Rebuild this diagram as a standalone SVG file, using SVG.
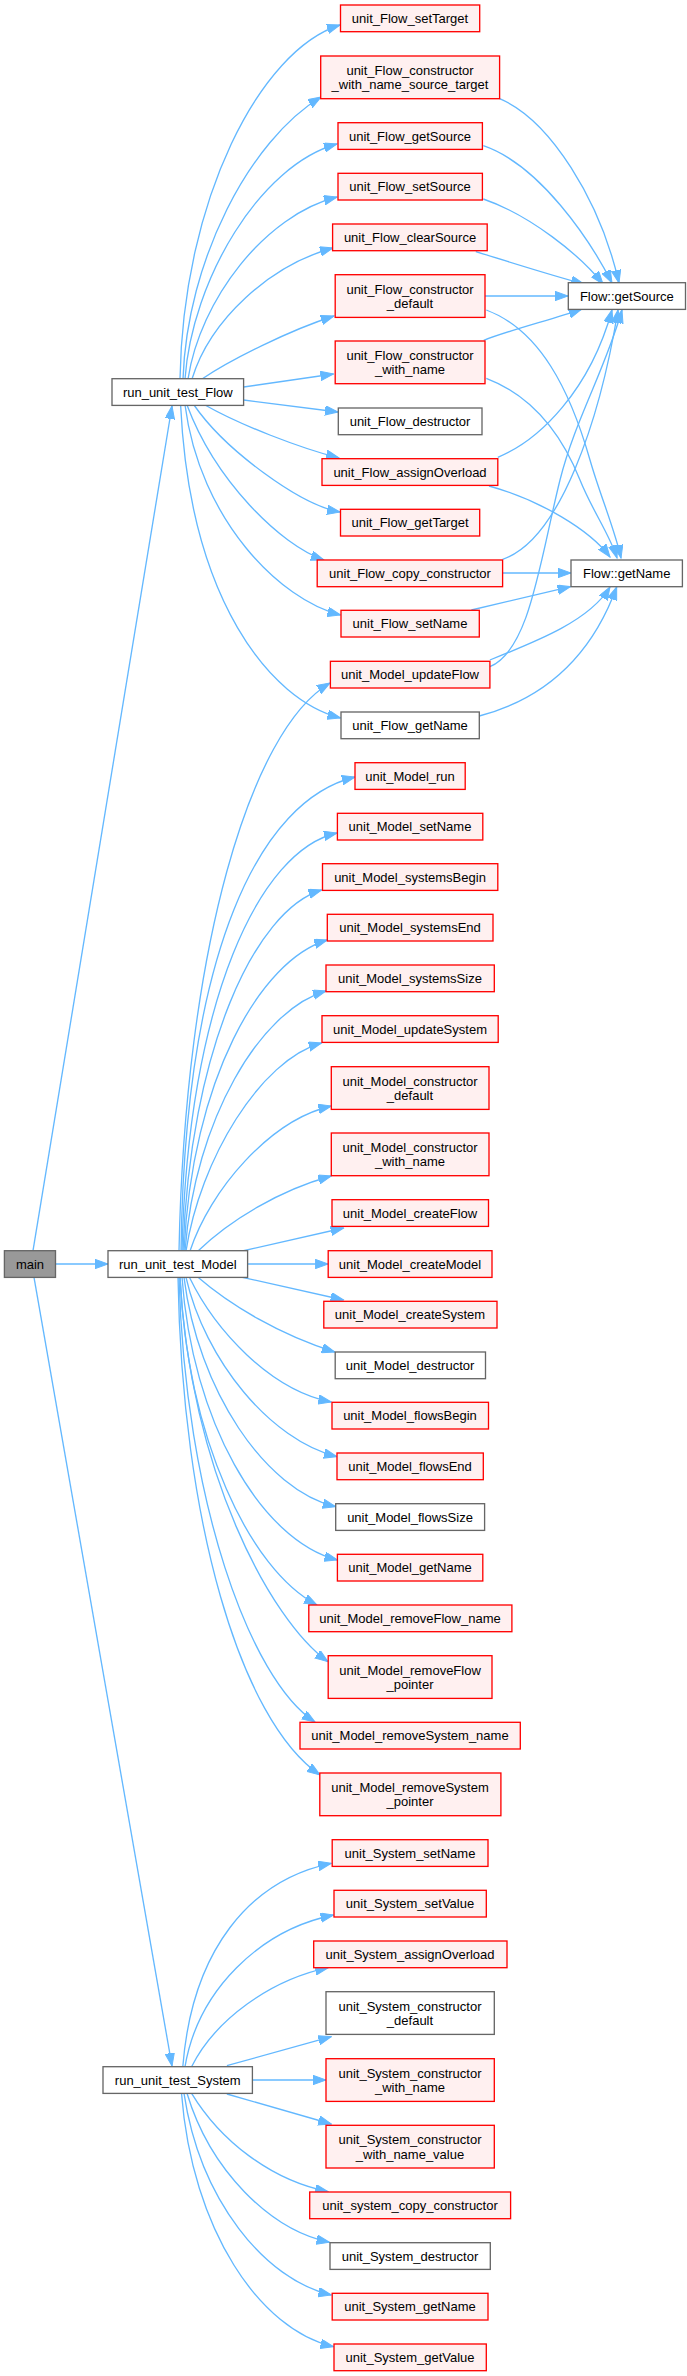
<svg xmlns="http://www.w3.org/2000/svg" width="687" height="2376" viewBox="0 0 687 2376">
<style>
text{font-family:"Liberation Sans",Arial,sans-serif;font-size:13px;fill:#000;text-anchor:middle}
.r{fill:#fff0f0;stroke:#ff0000;stroke-width:1.33}
.g{fill:#ffffff;stroke:#666666;stroke-width:1.33}
.m{fill:#999999;stroke:#666666;stroke-width:1.33}
.e path{fill:none;stroke:#63b8ff;stroke-width:1.33;marker-end:url(#ah)}
</style>
<defs>
<marker id="ah" markerWidth="14" markerHeight="10" refX="13" refY="4.7" orient="auto" markerUnits="userSpaceOnUse"><path d="M0,0 L13,4.7 L0,9.4 z" fill="#63b8ff" stroke="#63b8ff" stroke-width="1"/></marker>
</defs>
<rect width="687" height="2376" fill="#ffffff"/>
<g class="e" id="edges">
<path d="M33,1250.7 L172,406"/>
<path d="M55.5,1264 L108,1264"/>
<path d="M34,1277.3 L172,2066"/>
<path d="M180,379 C183,200 260,50 340,25"/>
<path d="M183,379 C187,260 250,140 321,97"/>
<path d="M185,379 C192,280 260,165 337,144"/>
<path d="M188,379 C200,300 265,215 337,197"/>
<path d="M192,379 C210,320 270,265 333,248"/>
<path d="M202,379 C230,360 290,330 334,316"/>
<path d="M243.6,387 L333.5,374"/>
<path d="M243.6,400 L338,412"/>
<path d="M205,405 C240,425 300,448 339,458"/>
<path d="M194,405 C225,450 300,505 340,512"/>
<path d="M187,405 C215,480 280,545 324,560"/>
<path d="M185,405 C200,520 280,600 340.5,615"/>
<path d="M180.6,405 C190,600 270,700 340.5,718"/>
<path d="M499.6,98.7 C550,120 600,200 619,283"/>
<path d="M483.3,145.7 C540,165 590,240 612,283"/>
<path d="M483.3,199 C530,215 580,255 603,284"/>
<path d="M475.8,251.7 C510,262 550,275 584,284"/>
<path d="M485,296 L568,296"/>
<path d="M483.7,340.3 C510,330 550,320 581.5,309.3"/>
<path d="M497.8,457.3 C540,440 590,390 612,310"/>
<path d="M502.6,559.3 C560,540 600,420 618,310"/>
<path d="M489.9,666.7 C530,650 540,560 560,480 C575,420 605,370 622,310"/>
<path d="M486.3,310 C540,330 570,390 590,460 C600,495 615,530 621,558"/>
<path d="M486.3,378.3 C530,395 560,430 580,480 C592,510 610,535 617,558"/>
<path d="M489,486 C540,500 590,530 610,557"/>
<path d="M502.6,573 L571,573"/>
<path d="M471.4,610 L570.5,586.7"/>
<path d="M489.9,660 C540,640 590,620 610,587"/>
<path d="M479.3,716 C540,700 590,660 616.7,587"/>
<path d="M179,1251 C185,950 250,730 330,683"/>
<path d="M181,1251 C185,950 260,800 355,777"/>
<path d="M182,1251 C188,1000 260,850 337,833"/>
<path d="M183,1251 C190,1050 255,910 321.6,890"/>
<path d="M184,1251 C192,1080 260,960 327.3,940"/>
<path d="M185,1251 C195,1120 260,1010 326,991"/>
<path d="M186,1251 C200,1160 260,1060 321.6,1043"/>
<path d="M190,1251 C210,1190 270,1120 331.3,1106"/>
<path d="M198,1251 C230,1220 280,1190 331.3,1176"/>
<path d="M242.3,1251 L343.6,1228"/>
<path d="M247.6,1264 L328.2,1264"/>
<path d="M242.3,1277.3 L343.6,1300"/>
<path d="M198,1277.3 C230,1305 280,1335 334.8,1352"/>
<path d="M189.4,1277.3 C215,1330 270,1390 331.3,1402"/>
<path d="M186,1277.3 C205,1360 270,1440 337,1456.7"/>
<path d="M184,1277.3 C198,1390 265,1490 335.7,1506.7"/>
<path d="M182,1277.3 C192,1420 260,1540 337.4,1560"/>
<path d="M180,1277.3 C188,1440 250,1570 317,1605"/>
<path d="M180,1277.3 C190,1470 270,1620 328,1661.7"/>
<path d="M179,1277.3 C185,1500 250,1680 315,1722"/>
<path d="M178,1277.3 C182,1520 240,1720 320,1775"/>
<path d="M182.8,2066.7 C192,1950 250,1880 331.3,1863.3"/>
<path d="M185,2066.7 C198,1990 260,1930 333.5,1915"/>
<path d="M191.6,2066.7 C215,2020 270,1980 328.2,1967.7"/>
<path d="M226.9,2065.7 L331.3,2036.7"/>
<path d="M252.4,2080 L326,2080"/>
<path d="M226.9,2094 L331.3,2124"/>
<path d="M191.6,2093.3 C220,2140 270,2180 328.2,2191.7"/>
<path d="M187,2093.3 C210,2170 270,2230 329.5,2242.3"/>
<path d="M184,2093.3 C200,2200 265,2280 331.3,2295"/>
<path d="M181.5,2093.3 C192,2230 260,2330 333.5,2346.7"/>
</g>
<g id="main"><rect class="m" x="4.4" y="1250.7" width="51.1" height="26.7"/><text x="30" y="1268.6">main</text></g>
<g id="run_unit_test_Flow"><rect class="g" x="112" y="378.7" width="131.6" height="26.7"/><text x="177.8" y="396.6">run_unit_test_Flow</text></g>
<g id="run_unit_test_Model"><rect class="g" x="108" y="1250.7" width="139.6" height="26.7"/><text x="177.8" y="1268.6">run_unit_test_Model</text></g>
<g id="run_unit_test_System"><rect class="g" x="103" y="2066.7" width="149.4" height="26.7"/><text x="177.7" y="2084.6">run_unit_test_System</text></g>
<g id="Flow_getSource"><rect class="g" x="568.3" y="282.7" width="117.2" height="26.7"/><text x="626.9" y="300.6">Flow::getSource</text></g>
<g id="Flow_getName"><rect class="g" x="571" y="560" width="111.4" height="26.7"/><text x="626.7" y="577.9">Flow::getName</text></g>
<g id="n1"><rect class="r" x="340.5" y="5" width="139.2" height="26.7"/><text x="410" y="22.9">unit_Flow_setTarget</text></g>
<g id="n2"><rect class="r" x="320.7" y="56" width="178.9" height="42.7"/><text x="410" y="74.9">unit_Flow_constructor</text><text x="410" y="89.4">_with_name_source_target</text></g>
<g id="n3"><rect class="r" x="338" y="122.7" width="144.4" height="26.7"/><text x="410" y="140.5">unit_Flow_getSource</text></g>
<g id="n4"><rect class="r" x="338" y="173.3" width="144.4" height="26.7"/><text x="410" y="191.2">unit_Flow_setSource</text></g>
<g id="n5"><rect class="r" x="332.6" y="224" width="154.6" height="26.7"/><text x="410" y="241.9">unit_Flow_clearSource</text></g>
<g id="n6"><rect class="r" x="335.2" y="274.7" width="149.8" height="42.7"/><text x="410" y="293.5">unit_Flow_constructor</text><text x="410" y="308">_default</text></g>
<g id="n7"><rect class="r" x="335.2" y="341" width="149.8" height="42.7"/><text x="410" y="359.9">unit_Flow_constructor</text><text x="410" y="374.4">_with_name</text></g>
<g id="n8"><rect class="g" x="338.3" y="408" width="143.7" height="26.7"/><text x="410" y="425.9">unit_Flow_destructor</text></g>
<g id="n9"><rect class="r" x="322" y="458.7" width="175.8" height="26.7"/><text x="410" y="476.6">unit_Flow_assignOverload</text></g>
<g id="n10"><rect class="r" x="340.5" y="509.3" width="139.2" height="26.7"/><text x="410" y="527.2">unit_Flow_getTarget</text></g>
<g id="n11"><rect class="r" x="317.2" y="560" width="185.4" height="26.7"/><text x="410" y="577.9">unit_Flow_copy_constructor</text></g>
<g id="n12"><rect class="r" x="341" y="610.3" width="138.3" height="26.7"/><text x="410" y="628.2">unit_Flow_setName</text></g>
<g id="n13"><rect class="r" x="330.4" y="661.3" width="159.5" height="26.7"/><text x="410" y="679.2">unit_Model_updateFlow</text></g>
<g id="n14"><rect class="g" x="341" y="712" width="138.3" height="26.7"/><text x="410" y="729.9">unit_Flow_getName</text></g>
<g id="n15"><rect class="r" x="355" y="762.7" width="110.2" height="26.7"/><text x="410" y="780.6">unit_Model_run</text></g>
<g id="n16"><rect class="r" x="337.4" y="813.3" width="145.4" height="26.7"/><text x="410" y="831.2">unit_Model_setName</text></g>
<g id="n17"><rect class="r" x="322.5" y="863.7" width="175.3" height="26.7"/><text x="410" y="881.6">unit_Model_systemsBegin</text></g>
<g id="n18"><rect class="r" x="327.3" y="914.3" width="165.7" height="26.7"/><text x="410" y="932.2">unit_Model_systemsEnd</text></g>
<g id="n19"><rect class="r" x="326" y="965" width="168.3" height="26.7"/><text x="410" y="982.9">unit_Model_systemsSize</text></g>
<g id="n20"><rect class="r" x="322" y="1015.7" width="176.2" height="26.7"/><text x="410" y="1033.6">unit_Model_updateSystem</text></g>
<g id="n21"><rect class="r" x="331.3" y="1066.7" width="157.7" height="42.7"/><text x="410" y="1085.6">unit_Model_constructor</text><text x="410" y="1100.1">_default</text></g>
<g id="n22"><rect class="r" x="331.3" y="1133" width="157.7" height="42.7"/><text x="410" y="1151.9">unit_Model_constructor</text><text x="410" y="1166.4">_with_name</text></g>
<g id="n23"><rect class="r" x="332" y="1199.7" width="156.5" height="26.7"/><text x="410" y="1217.6">unit_Model_createFlow</text></g>
<g id="n24"><rect class="r" x="328.2" y="1250.7" width="163.8" height="26.7"/><text x="410" y="1268.6">unit_Model_createModel</text></g>
<g id="n25"><rect class="r" x="323.8" y="1301.3" width="173.2" height="26.7"/><text x="410" y="1319.2">unit_Model_createSystem</text></g>
<g id="n26"><rect class="g" x="335.2" y="1352" width="150.3" height="26.7"/><text x="410" y="1369.9">unit_Model_destructor</text></g>
<g id="n27"><rect class="r" x="332" y="1402.3" width="156.5" height="26.7"/><text x="410" y="1420.2">unit_Model_flowsBegin</text></g>
<g id="n28"><rect class="r" x="337" y="1453" width="146.3" height="26.7"/><text x="410" y="1470.9">unit_Model_flowsEnd</text></g>
<g id="n29"><rect class="g" x="335.7" y="1503.7" width="148.9" height="26.7"/><text x="410" y="1521.6">unit_Model_flowsSize</text></g>
<g id="n30"><rect class="r" x="337.4" y="1554.3" width="145.4" height="26.7"/><text x="410" y="1572.2">unit_Model_getName</text></g>
<g id="n31"><rect class="r" x="308.8" y="1605" width="203.1" height="26.7"/><text x="410" y="1622.9">unit_Model_removeFlow_name</text></g>
<g id="n32"><rect class="r" x="328.2" y="1655.7" width="163.8" height="42.7"/><text x="410" y="1674.6">unit_Model_removeFlow</text><text x="410" y="1689.1">_pointer</text></g>
<g id="n33"><rect class="r" x="300" y="1722.3" width="220.3" height="26.7"/><text x="410" y="1740.2">unit_Model_removeSystem_name</text></g>
<g id="n34"><rect class="r" x="319.8" y="1773" width="181.1" height="42.7"/><text x="410" y="1791.9">unit_Model_removeSystem</text><text x="410" y="1806.4">_pointer</text></g>
<g id="n35"><rect class="r" x="332.2" y="1839.7" width="155.8" height="26.7"/><text x="410" y="1857.6">unit_System_setName</text></g>
<g id="n36"><rect class="r" x="334" y="1890.3" width="152.3" height="26.7"/><text x="410" y="1908.2">unit_System_setValue</text></g>
<g id="n37"><rect class="r" x="313.7" y="1941" width="193.3" height="26.7"/><text x="410" y="1958.9">unit_System_assignOverload</text></g>
<g id="n38"><rect class="g" x="326" y="1991.7" width="168.3" height="42.7"/><text x="410" y="2010.6">unit_System_constructor</text><text x="410" y="2025.1">_default</text></g>
<g id="n39"><rect class="r" x="326" y="2058.7" width="168.3" height="42.7"/><text x="410" y="2077.6">unit_System_constructor</text><text x="410" y="2092.1">_with_name</text></g>
<g id="n40"><rect class="r" x="326" y="2125.3" width="168.3" height="42.7"/><text x="410" y="2144.2">unit_System_constructor</text><text x="410" y="2158.7">_with_name_value</text></g>
<g id="n41"><rect class="r" x="309.7" y="2192" width="200.9" height="26.7"/><text x="410" y="2209.9">unit_system_copy_constructor</text></g>
<g id="n42"><rect class="g" x="330" y="2242.7" width="160.3" height="26.7"/><text x="410" y="2260.6">unit_System_destructor</text></g>
<g id="n43"><rect class="r" x="332.2" y="2293.3" width="155.8" height="26.7"/><text x="410" y="2311.2">unit_System_getName</text></g>
<g id="n44"><rect class="r" x="334" y="2344" width="152.3" height="26.7"/><text x="410" y="2361.9">unit_System_getValue</text></g>
</svg>
